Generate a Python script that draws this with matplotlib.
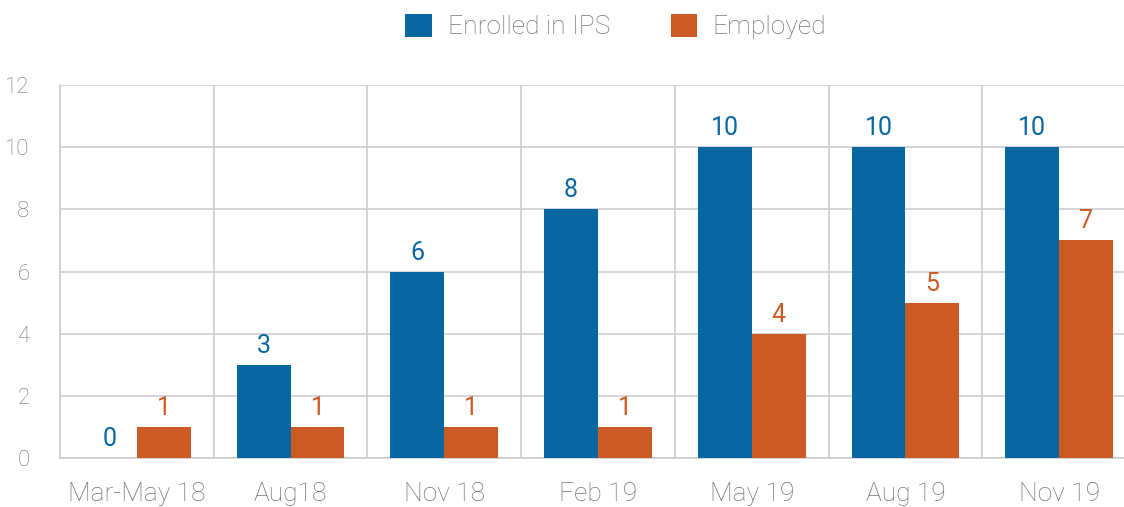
import numpy as np
import matplotlib.pyplot as plt

categories = ['Mar-May 18', 'Aug18', 'Nov 18', 'Feb 19', 'May 19', 'Aug 19', 'Nov 19']
enrolled = [0, 3, 6, 8, 10, 10, 10]
employed = [1, 1, 1, 1, 4, 5, 7]

blue = '#0866a0'
orange = '#cc5a24'
grid_c = '#c9cdd3'
text_c = '#727378'

plt.rcParams['font.family'] = ['Roboto', 'DejaVu Sans']
plt.rcParams['font.weight'] = 'light'

fig = plt.figure(figsize=(11.24, 5.07), dpi=100)
ax = fig.add_axes([60 / 1124, 1 - 458 / 507, 1076 / 1124, 373 / 507])

x = np.arange(len(categories))
w = 0.35
b1 = ax.bar(x - w / 2, enrolled, w, color=blue, label='Enrolled in IPS', zorder=3)
b2 = ax.bar(x + w / 2, employed, w, color=orange, label='Employed', zorder=3)

for xi, v in zip(x, enrolled):
    ax.annotate(str(v), (xi - w / 2, v), xytext=(0, 5), textcoords='offset points',
                ha='center', va='bottom', color=blue, fontsize=18, fontweight='normal')
for xi, v in zip(x, employed):
    ax.annotate(str(v), (xi + w / 2, v), xytext=(0, 5), textcoords='offset points',
                ha='center', va='bottom', color=orange, fontsize=18, fontweight='normal')

ax.set_xlim(-0.5, len(categories) - 0.5)
ax.set_ylim(0, 12)
ax.set_yticks(range(0, 13, 2))
ax.set_xticks(x)
ax.set_xticklabels(categories)
ax.set_xticks(np.arange(-0.5, len(categories), 1), minor=True)
ax.grid(axis='y', color=grid_c, linewidth=1.2, zorder=0)
ax.grid(axis='x', which='minor', color=grid_c, linewidth=1.2, zorder=0)
ax.tick_params(axis='both', which='both', length=0, colors=text_c)
ax.tick_params(axis='x', labelsize=19, pad=17)
ax.tick_params(axis='y', labelsize=16, pad=22)
for s in ['top', 'right']:
    ax.spines[s].set_visible(False)
for s in ['left', 'bottom']:
    ax.spines[s].set_color(grid_c)
    ax.spines[s].set_linewidth(1.2)

fig.legend(handles=[b1, b2], loc='upper center', bbox_to_anchor=(0.548, 1.02), ncol=2,
           frameon=False, fontsize=19, labelcolor=text_c, handlelength=1.0,
           handleheight=1.0, columnspacing=2.3, handletextpad=0.6)

plt.savefig('out.png', dpi=100)
